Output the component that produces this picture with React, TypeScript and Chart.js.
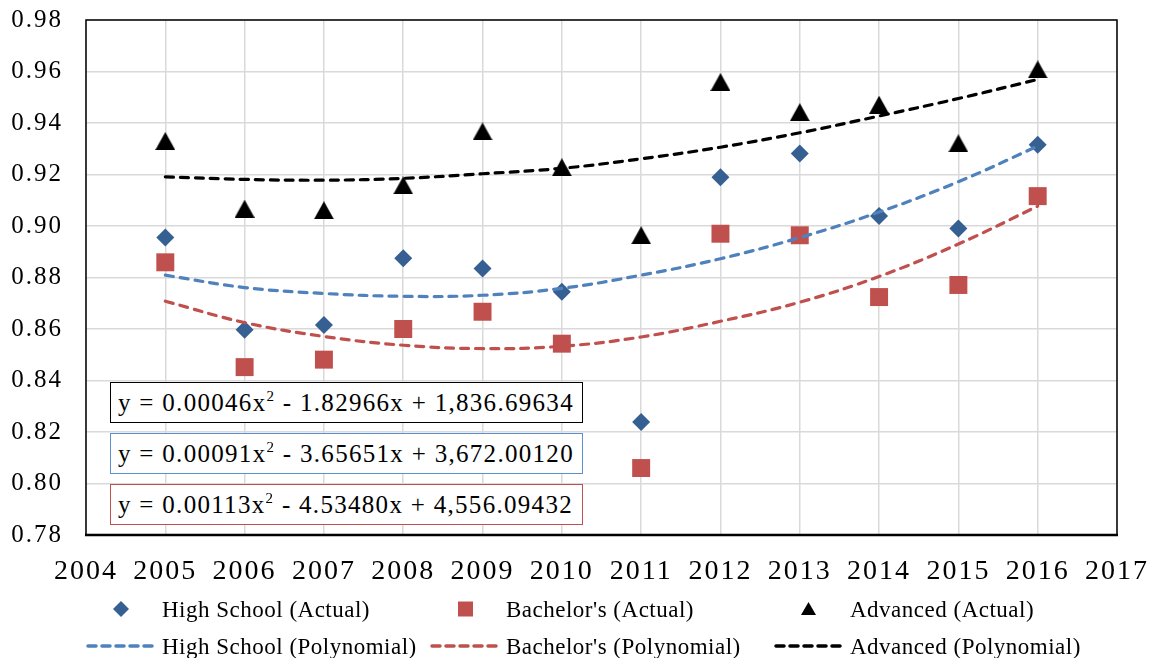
import React, { useEffect, useRef } from 'react';
import { Chart, registerables } from 'chart.js';

Chart.register(...registerables);

// ---- Data ----
const years = [2005, 2006, 2007, 2008, 2009, 2010, 2011, 2012, 2013, 2014, 2015, 2016];
const highSchoolActual = [0.8955, 0.8597, 0.8616, 0.8875, 0.8835, 0.8745, 0.8239, 0.9189, 0.9282, 0.9039, 0.8990, 0.9316];
const bachelorsActual = [0.8859, 0.8452, 0.8481, 0.8600, 0.8667, 0.8543, 0.8060, 0.8970, 0.8964, 0.8724, 0.8771, 0.9116];
const advancedActual = [0.9330, 0.9067, 0.9061, 0.9158, 0.9367, 0.9228, 0.8964, 0.9559, 0.9442, 0.9471, 0.9321, 0.9608];
const highSchoolPoly = [0.8809, 0.8761, 0.8738, 0.8727, 0.8731, 0.8758, 0.8809, 0.8873, 0.8955, 0.9054, 0.9172, 0.9310];
const bachelorsPoly = [0.8708, 0.8625, 0.8571, 0.8537, 0.8524, 0.8533, 0.8569, 0.8630, 0.8704, 0.8804, 0.8930, 0.9077];
const advancedPoly = [0.9191, 0.9181, 0.9178, 0.9185, 0.9203, 0.9224, 0.9261, 0.9306, 0.9362, 0.9427, 0.9495, 0.9569];

const xMin = 2004;
const xMax = 2017;
const yMin = 0.78;
const yMax = 0.98;
const yStep = 0.02;

const equationLines = [
  { pre: 'y = 0.00046x', post: ' - 1.82966x + 1,836.69634', color: '#000000' },
  { pre: 'y = 0.00091x', post: ' - 3.65651x + 3,672.00120', color: '#5b8fd0' },
  { pre: 'y = 0.00113x', post: ' - 4.53480x + 4,556.09432', color: '#c0504d' },
];

const legendItems = [
  { label: 'High School (Actual)', kind: 'diamond', color: '#376092' },
  { label: "Bachelor's (Actual)", kind: 'square', color: '#c0504d' },
  { label: 'Advanced (Actual)', kind: 'triangle', color: '#000000' },
  { label: 'High School (Polynomial)', kind: 'dash', color: '#4f81bd' },
  { label: "Bachelor's (Polynomial)", kind: 'dash', color: '#c0504d' },
  { label: 'Advanced (Polynomial)', kind: 'dash', color: '#000000' },
];

const FONT = "'Liberation Serif', 'Times New Roman', serif";

function toPoints(vals: number[]) {
  return years.map((y, i) => ({ x: y, y: vals[i] }));
}

function makeTriangle(color: string) {
  const c = document.createElement('canvas');
  c.width = 20;
  c.height = 18;
  const ctx = c.getContext('2d')!;
  ctx.fillStyle = color;
  ctx.beginPath();
  ctx.moveTo(0, 18);
  ctx.lineTo(10, 0);
  ctx.lineTo(20, 18);
  ctx.closePath();
  ctx.fill();
  return c;
}

const spacingPlugin = {
  id: 'letterSpacing',
  beforeUpdate(chart: any) {
    chart.ctx.letterSpacing = '2px';
  },
  beforeDraw(chart: any) {
    chart.ctx.letterSpacing = '2px';
  },
};

const framePlugin = {
  id: 'frame',
  afterDraw(chart: any) {
    const { ctx, chartArea } = chart;
    ctx.save();
    ctx.strokeStyle = '#000';
    ctx.lineWidth = 1.5;
    ctx.strokeRect(chartArea.left, chartArea.top, chartArea.right - chartArea.left, chartArea.bottom - chartArea.top);
    ctx.lineWidth = 2.5;
    ctx.beginPath();
    ctx.moveTo(chartArea.left - 1, chartArea.bottom);
    ctx.lineTo(chartArea.right + 1, chartArea.bottom);
    ctx.stroke();
    ctx.restore();
  },
};

function Swatch({ kind, color }: { kind: string; color: string }) {
  if (kind === 'dash') {
    return (
      <svg width="71" height="10">
        <line x1="2" y1="5" x2="69" y2="5" stroke={color} strokeWidth="3.5" strokeDasharray="8 6" strokeLinecap="round" />
      </svg>
    );
  }
  if (kind === 'diamond') {
    return (
      <svg width="71" height="20">
        <polygon points="35,2 43,10 35,18 27,10" fill={color} />
      </svg>
    );
  }
  if (kind === 'square') {
    return (
      <svg width="71" height="20">
        <rect x="28" y="2.5" width="15" height="15" fill={color} />
      </svg>
    );
  }
  return (
    <svg width="71" height="20">
      <polygon points="34.5,3 42,16 27,16" fill={color} />
    </svg>
  );
}

export default function App() {
  const canvasRef = useRef<HTMLCanvasElement>(null);

  useEffect(() => {
    document.body.style.margin = '0';
    const canvas = canvasRef.current!;
    const triangle = makeTriangle('#000000');
    const lineDs = (label: string, vals: number[], color: string) =>
      ({
        label,
        data: toPoints(vals),
        showLine: true,
        borderColor: color,
        borderWidth: 3.2,
        borderDash: [8, 7],
        borderCapStyle: 'round',
        tension: 0.4,
        pointRadius: 0,
        order: 0,
      } as any);
    const chart = new Chart(canvas, {
      type: 'scatter',
      data: {
        datasets: [
          lineDs('High School (Polynomial)', highSchoolPoly, '#4f81bd'),
          lineDs("Bachelor's (Polynomial)", bachelorsPoly, '#c0504d'),
          lineDs('Advanced (Polynomial)', advancedPoly, '#000000'),
          {
            label: 'High School (Actual)',
            data: toPoints(highSchoolActual),
            pointStyle: 'rectRot',
            pointRadius: 9,
            backgroundColor: '#376092',
            borderColor: '#376092',
            borderWidth: 0,
            order: 1,
          } as any,
          {
            label: "Bachelor's (Actual)",
            data: toPoints(bachelorsActual),
            pointStyle: 'rect',
            pointRadius: 12.7,
            backgroundColor: '#c0504d',
            borderColor: '#c0504d',
            borderWidth: 0,
            order: 1,
          } as any,
          {
            label: 'Advanced (Actual)',
            data: toPoints(advancedActual),
            pointStyle: triangle,
            pointRadius: 10,
            backgroundColor: '#000',
            borderColor: '#000',
            borderWidth: 0,
            order: 1,
          } as any,
        ],
      },
      options: {
        animation: false,
        responsive: false,
        events: [],
        layout: { padding: { top: 20, right: 36, left: 0, bottom: 0 } },
        plugins: {
          legend: { display: false },
          tooltip: { enabled: false },
        },
        scales: {
          x: {
            type: 'linear',
            min: xMin,
            max: xMax,
            ticks: {
              stepSize: 1,
              color: '#000',
              padding: 20,
              font: { family: FONT, size: 28 },
              callback: (v: any) => String(v),
            },
            grid: { color: '#d9d9d9', lineWidth: 1.5, drawTicks: false },
            border: { display: false },
            afterFit: (scale: any) => {
              scale.height = 123;
              scale.paddingLeft = 0;
              scale.paddingRight = 0;
            },
          },
          y: {
            type: 'linear',
            min: yMin,
            max: yMax,
            ticks: {
              stepSize: yStep,
              color: '#000',
              padding: 23,
              font: { family: FONT, size: 25 },
              callback: (v: any) => Number(v).toFixed(2),
            },
            grid: { color: '#d9d9d9', lineWidth: 1.5, drawTicks: false },
            border: { display: false },
            afterFit: (scale: any) => {
              scale.width = 86;
              scale.paddingTop = 0;
              scale.paddingBottom = 0;
            },
          },
        },
      },
      plugins: [spacingPlugin, framePlugin],
    });
    return () => chart.destroy();
  }, []);

  const eqTops = [382, 433, 484];
  const legendCols = [86, 430, 774];
  const legendRows = [609, 646];

  return (
    <div style={{ position: 'relative', width: 1153, height: 658, background: '#fff', overflow: 'hidden' }}>
      <canvas ref={canvasRef} width={1153} height={658} style={{ display: 'block' }} />
      {equationLines.map((eq, i) => (
        <div
          key={i}
          style={{
            position: 'absolute',
            left: 110,
            top: eqTops[i],
            width: 473,
            height: 41,
            boxSizing: 'border-box',
            border: `1.5px solid ${eq.color}`,
            background: '#fff',
            display: 'flex',
            alignItems: 'center',
            paddingLeft: 7,
            fontFamily: FONT,
            fontSize: 25,
            letterSpacing: '1.3px',
            color: '#000',
            whiteSpace: 'nowrap',
            lineHeight: 1,
          }}
        >
          <span>
            {eq.pre}
            <span style={{ fontSize: 15, position: 'relative', top: -10 }}>2</span>
            {eq.post}
          </span>
        </div>
      ))}
      {legendItems.map((item, i) => {
        const col = i % 3;
        const row = Math.floor(i / 3);
        return (
          <div
            key={item.label}
            style={{
              position: 'absolute',
              left: legendCols[col],
              top: legendRows[row] - 15,
              height: 30,
              display: 'flex',
              alignItems: 'center',
              fontFamily: FONT,
              fontSize: 23,
              letterSpacing: '0.5px',
              color: '#000',
              whiteSpace: 'nowrap',
              lineHeight: 1,
            }}
          >
            <Swatch kind={item.kind} color={item.color} />
            <span style={{ marginLeft: 5 }}>{item.label}</span>
          </div>
        );
      })}
    </div>
  );
}
